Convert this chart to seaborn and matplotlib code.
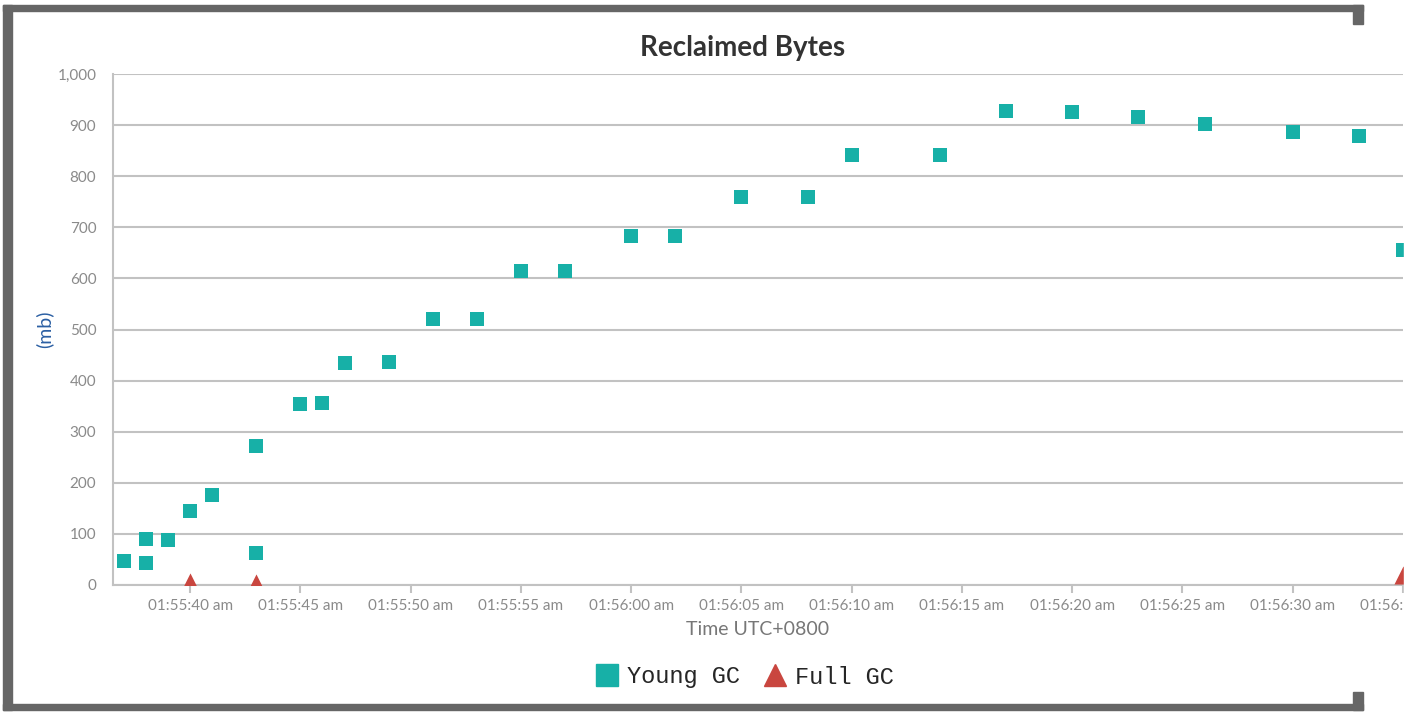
import pandas as pd
import matplotlib.pyplot as plt
import matplotlib.dates as mdates
from matplotlib.patches import Rectangle
from matplotlib.lines import Line2D
from matplotlib.ticker import FuncFormatter
import seaborn as sns

# GC events (time of day, reclaimed mb)
young_times = ['01:55:37', '01:55:38', '01:55:38', '01:55:39', '01:55:40', '01:55:41',
               '01:55:43', '01:55:43', '01:55:45', '01:55:46', '01:55:47', '01:55:49',
               '01:55:51', '01:55:53', '01:55:55', '01:55:57', '01:56:00', '01:56:02',
               '01:56:05', '01:56:08', '01:56:10', '01:56:14', '01:56:17', '01:56:20',
               '01:56:23', '01:56:26', '01:56:30', '01:56:33', '01:56:35']
young_mb = [47, 90, 43, 88, 145, 176, 272, 63, 354, 356, 434, 436, 521, 521, 615, 615,
            683, 683, 759, 759, 841, 841, 928, 926, 916, 902, 886, 879, 656]

full_times = ['01:55:40', '01:55:43', '01:56:35']
full_mb = [6, 3, 20]

y_ticks = list(range(0, 1001, 100))
x_ticks = ['01:55:40', '01:55:45', '01:55:50', '01:55:55', '01:56:00', '01:56:05',
           '01:56:10', '01:56:15', '01:56:20', '01:56:25', '01:56:30', '01:56:35']
x_start, x_end = '01:55:36.5', '01:56:35'

DAY = '2024-01-01 '
young = pd.DataFrame({'time': pd.to_datetime([DAY + t for t in young_times]), 'mb': young_mb})
full = pd.DataFrame({'time': pd.to_datetime([DAY + t for t in full_times]), 'mb': full_mb})

sns.set_theme(style='white')
plt.rcParams['font.family'] = ['Lato', 'DejaVu Sans']

W, H = 1423, 712
fig = plt.figure(figsize=(W / 100, H / 100), dpi=100)
ax = fig.add_axes([113 / W, 1 - 585 / H, (1403 - 113) / W, (585 - 74) / H])

teal, red, grid_c, label_c = '#17b0a7', '#c9463f', '#c2c2c2', '#8a8a8a'

sns.scatterplot(data=young, x='time', y='mb', marker='s', color=teal, s=95,
                linewidth=0, ax=ax, zorder=3)
sns.scatterplot(data=full, x='time', y='mb', marker='^', color=red, s=170,
                linewidth=0, ax=ax, zorder=3)

ax.set_ylim(0, 1000)
ax.set_yticks(y_ticks)
ax.yaxis.set_major_formatter(FuncFormatter(lambda v, p: f'{int(v):,}'))
ax.set_xlim(pd.Timestamp(DAY + x_start), pd.Timestamp(DAY + x_end))
ax.set_xticks(pd.to_datetime([DAY + t for t in x_ticks]))
ax.xaxis.set_major_formatter(mdates.DateFormatter('%I:%M:%S am'))

ax.grid(axis='y', color=grid_c, linewidth=1.5)
ax.grid(axis='x', visible=False)
ax.set_axisbelow(True)
for side in ['top', 'right']:
    ax.spines[side].set_visible(False)
for side in ['left', 'bottom']:
    ax.spines[side].set_color(grid_c)
    ax.spines[side].set_linewidth(1.5)

ax.tick_params(axis='x', colors=label_c, labelsize=11, length=6, width=1.5, color=grid_c,
               bottom=True, pad=4)
ax.tick_params(axis='y', colors=label_c, labelsize=11, length=0, pad=12)

ax.set_xlabel('Time UTC+0800', fontsize=14, color='#777777', labelpad=6)
ax.set_ylabel('(mb)', fontsize=14, color='#2b5fa3')
ax.yaxis.set_label_coords((53 - 113) / 1290, 0.5)

fig.text(743 / W, 1 - 48 / H, 'Reclaimed Bytes', ha='center', va='center',
         fontsize=20, fontweight='bold', color='#333333')

handles = [Line2D([], [], linestyle='none', marker='s', color=teal, markersize=15.5),
           Line2D([], [], linestyle='none', marker='^', color=red, markersize=16.5)]
fig.legend(handles, ['Young GC', 'Full GC'], loc='center',
           bbox_to_anchor=(744 / W, 1 - 677 / H), ncol=2, frameon=False,
           handletextpad=0.3, columnspacing=0.9, handlelength=1.1,
           prop={'family': 'Liberation Mono', 'size': 17})

# screenshot frame (open on the right) and clipped right edge
dark = '#666666'
for x0, y0, w, h in [(3, 5, 1360, 6), (3, 5, 9, 705), (3, 704, 1360, 6),
                     (1353, 5, 10, 19), (1353, 692, 10, 18)]:
    fig.patches.append(Rectangle((x0 / W, 1 - (y0 + h) / H), w / W, h / H,
                                 transform=fig.transFigure, color=dark, zorder=10))
fig.patches.append(Rectangle((1404 / W, 0), 19 / W, 1, transform=fig.transFigure,
                             color='white', zorder=20))

fig.savefig('out.png', dpi=100)
